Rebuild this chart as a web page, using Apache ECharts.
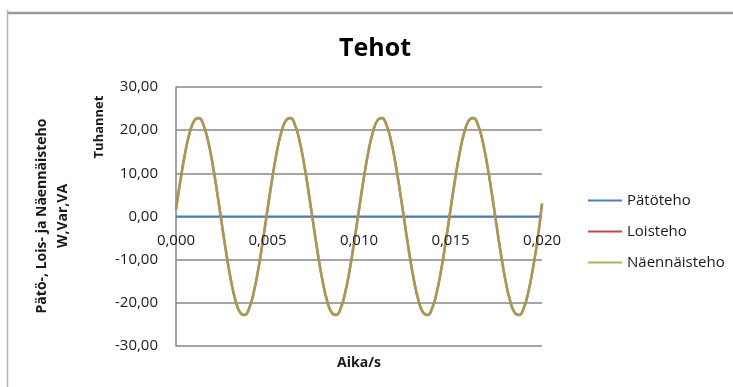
<!DOCTYPE html>
<html>
<head>
<meta charset="utf-8">
<script src="https://cdn.jsdelivr.net/npm/echarts@6/dist/echarts.min.js"></script>
<style>
html,body{margin:0;padding:0;background:#fff;}
#c{width:733px;height:387px;}
</style>
</head>
<body>
<div id="c"></div>
<script>
const chartTitle = 'Tehot';
const xAxisTitle = 'Aika/s';
const yAxisTitle = 'Pätö-, Lois- ja Näennäisteho\nW,Var,VA';
const unitLabel = 'Tuhannet';
const seriesNames = ['Pätöteho', 'Loisteho', 'Näennäisteho'];

const time = [
  0, 0.00025, 0.0005, 0.00075, 0.001, 0.00125, 0.0015, 0.00175, 0.002, 0.00225,
  0.0025, 0.00275, 0.003, 0.00325, 0.0035, 0.00375, 0.004, 0.00425, 0.0045, 0.00475,
  0.005, 0.00525, 0.0055, 0.00575, 0.006, 0.00625, 0.0065, 0.00675, 0.007, 0.00725,
  0.0075, 0.00775, 0.008, 0.00825, 0.0085, 0.00875, 0.009, 0.00925, 0.0095, 0.00975,
  0.01, 0.01025, 0.0105, 0.01075, 0.011, 0.01125, 0.0115, 0.01175, 0.012, 0.01225,
  0.0125, 0.01275, 0.013, 0.01325, 0.0135, 0.01375, 0.014, 0.01425, 0.0145, 0.01475,
  0.015, 0.01525, 0.0155, 0.01575, 0.016, 0.01625, 0.0165, 0.01675, 0.017, 0.01725,
  0.0175, 0.01775, 0.018, 0.01825, 0.0185, 0.01875, 0.019, 0.01925, 0.0195, 0.01975,
  0.02
];

// thousands (Tuhannet)
const patoteho = [
  0,0,0,0,0,0,0,0,0,0, 0,0,0,0,0,0,0,0,0,0,
  0,0,0,0,0,0,0,0,0,0, 0,0,0,0,0,0,0,0,0,0,
  0,0,0,0,0,0,0,0,0,0, 0,0,0,0,0,0,0,0,0,0,
  0,0,0,0,0,0,0,0,0,0, 0,0,0,0,0,0,0,0,0,0,
  0
];

const loisteho = [
  1.6, 8.58, 14.72, 19.42, 22.22, 22.84, 21.23, 17.54, 12.14, 5.54,
  -1.6, -8.58, -14.72, -19.42, -22.22, -22.84, -21.23, -17.54, -12.14, -5.54,
  1.6, 8.58, 14.72, 19.42, 22.22, 22.84, 21.23, 17.54, 12.14, 5.54,
  -1.6, -8.58, -14.72, -19.42, -22.22, -22.84, -21.23, -17.54, -12.14, -5.54,
  1.6, 8.58, 14.72, 19.42, 22.22, 22.84, 21.23, 17.54, 12.14, 5.54,
  -1.6, -8.58, -14.72, -19.42, -22.22, -22.84, -21.23, -17.54, -12.14, -5.54,
  1.6, 8.58, 14.72, 19.42, 22.22, 22.84, 21.23, 17.54, 12.14, 5.54,
  -1.6, -8.58, -14.72, -19.42, -22.22, -22.84, -21.23, -17.54, -12.14, -5.54,
  3.0
];

const naennaisteho = [
  1.6, 8.58, 14.72, 19.42, 22.22, 22.84, 21.23, 17.54, 12.14, 5.54,
  -1.6, -8.58, -14.72, -19.42, -22.22, -22.84, -21.23, -17.54, -12.14, -5.54,
  1.6, 8.58, 14.72, 19.42, 22.22, 22.84, 21.23, 17.54, 12.14, 5.54,
  -1.6, -8.58, -14.72, -19.42, -22.22, -22.84, -21.23, -17.54, -12.14, -5.54,
  1.6, 8.58, 14.72, 19.42, 22.22, 22.84, 21.23, 17.54, 12.14, 5.54,
  -1.6, -8.58, -14.72, -19.42, -22.22, -22.84, -21.23, -17.54, -12.14, -5.54,
  1.6, 8.58, 14.72, 19.42, 22.22, 22.84, 21.23, 17.54, 12.14, 5.54,
  -1.6, -8.58, -14.72, -19.42, -22.22, -22.84, -21.23, -17.54, -12.14, -5.54,
  3.0
];

const pair = (vals) => time.map((t, i) => [t, vals[i]]);
const FONT = 'Open Sans';
const TXT = '#1a1a1a';

const chart = echarts.init(document.getElementById('c'), null, {renderer: 'canvas'});
chart.setOption({
  animation: false,
  backgroundColor: '#ffffff',
  title: {
    text: chartTitle,
    left: 370, top: 31, textAlign: 'center',
    textStyle: {fontFamily: FONT, fontSize: 25, fontWeight: 'bold', color: '#000'}
  },
  grid: {left: 176, right: 191, top: 87, bottom: 41, containLabel: false},
  legend: {
    orient: 'vertical',
    left: 583, top: 188,
    icon: 'rect',
    itemWidth: 34, itemHeight: 2, itemGap: 16,
    textStyle: {fontFamily: FONT, fontSize: 15, color: TXT},
    data: [
      {name: seriesNames[0], itemStyle: {color: '#4A7EBB', opacity: 1}},
      {name: seriesNames[1], itemStyle: {color: '#BE4B48', opacity: 1}},
      {name: seriesNames[2], itemStyle: {color: '#9BBB59', opacity: 1}}
    ]
  },
  xAxis: {
    type: 'value', min: 0, max: 0.02, interval: 0.005,
    position: 'bottom', offset: -129.5, z: 10,
    axisLine: {show: false, onZero: false},
    axisTick: {show: false},
    splitLine: {show: false},
    axisLabel: {
      margin: 17, fontFamily: FONT, fontSize: 15, color: TXT,
      formatter: v => v.toFixed(3).replace('.', ',')
    }
  },
  yAxis: {
    type: 'value', min: -30, max: 30, interval: 10,
    axisLine: {show: true, onZero: false, lineStyle: {color: '#868686', width: 1.5}},
    axisTick: {show: false},
    splitLine: {show: true, lineStyle: {color: '#868686', width: 1.5}},
    axisLabel: {
      margin: 18, fontFamily: FONT, fontSize: 15, color: TXT,
      formatter: v => v.toFixed(2).replace('.', ',')
    }
  },
  graphic: [
    {type: 'line', shape: {x1: 8, y1: 13, x2: 733, y2: 13}, style: {stroke: '#9a9a9a', lineWidth: 2.5}, z: 10},
    {type: 'line', shape: {x1: 7.5, y1: 10, x2: 7.5, y2: 387}, style: {stroke: '#b4b4b4', lineWidth: 1.5}, z: 10},
    {type: 'text', x: 53, y: 216, rotation: Math.PI / 2,
      style: {text: yAxisTitle, fontFamily: FONT, fontSize: 14, fontWeight: 'bold', fill: TXT,
        textAlign: 'center', textVerticalAlign: 'middle', lineHeight: 21}},
    {type: 'text', x: 99, y: 127, rotation: Math.PI / 2,
      style: {text: unitLabel, fontFamily: FONT, fontSize: 13, fontWeight: 'bold', fill: TXT,
        textAlign: 'center', textVerticalAlign: 'middle'}},
    {type: 'text', x: 359, y: 363,
      style: {text: xAxisTitle, fontFamily: FONT, fontSize: 14, fontWeight: 'bold', fill: TXT,
        textAlign: 'center', textVerticalAlign: 'middle'}}
  ],
  series: [
    {name: seriesNames[0], type: 'line', data: pair(patoteho), symbol: 'none',
      color: '#4A7EBB', lineStyle: {color: '#4A7EBB', width: 2}, z: 3},
    {name: seriesNames[1], type: 'line', data: pair(loisteho), symbol: 'none', smooth: true,
      color: '#BE4B48', lineStyle: {color: '#BE4B48', width: 2.5}, z: 4},
    {name: seriesNames[2], type: 'line', data: pair(naennaisteho), symbol: 'none', smooth: true,
      color: '#9BBB59', lineStyle: {color: '#9BBB59', width: 2.5, opacity: 0.7}, z: 5}
  ]
});
</script>
</body>
</html>
